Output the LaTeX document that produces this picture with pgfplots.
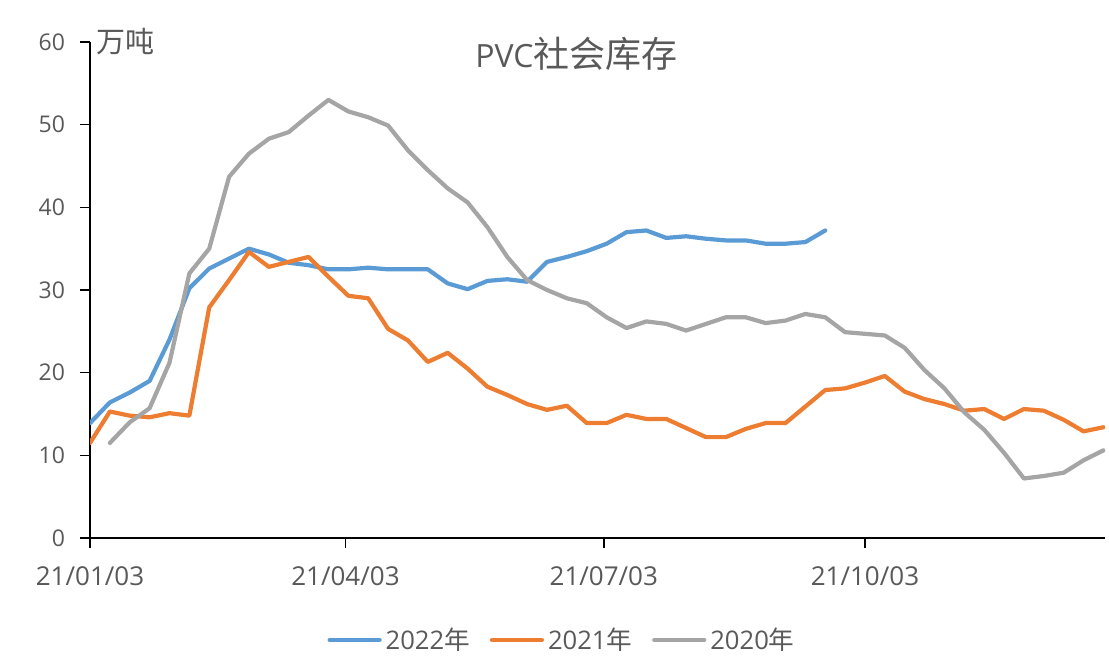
\documentclass[border=0pt]{standalone}
\usepackage{pgfplots}
\pgfplotsset{compat=1.18}
\usepackage{fontspec}
\setmainfont{Open Sans}
\newfontfamily\cjk{Noto Sans CJK SC}
\definecolor{c22}{HTML}{5B9BD5}
\definecolor{c21}{HTML}{ED7D31}
\definecolor{c20}{HTML}{A5A5A5}
\definecolor{txt}{HTML}{595959}
\begin{document}
\begin{tikzpicture}
\useasboundingbox (0,0) rectangle (554.5bp,328.5bp);
\begin{axis}[
  at={(45bp,59.5bp)}, anchor=south west,
  scale only axis, width=507.5bp, height=248bp,
  xmin=0, xmax=51.08, ymin=0, ymax=60,
  axis x line*=bottom, axis y line*=left,
  axis line style={black, line width=0.8bp},
  xtick={0,12.857,25.857,39},
  xticklabels={21/01/03,21/04/03,21/07/03,21/10/03},
  ytick={0,10,20,30,40,50,60},
  tick align=outside, major tick length=5bp,
  tick style={black, line width=0.8bp},
  /pgf/number format/assume math mode=true,
  yticklabel style={font=\fontsize{11.5bp}{13bp}\selectfont, text=txt, xshift=-4bp},
  xticklabel style={font=\fontsize{13bp}{15bp}\selectfont, text=txt, yshift=-6bp},
  legend columns=3,
  legend style={at={(0.466,-0.2056)}, anchor=center, draw=none, fill=none,
    font=\fontsize{12.8bp}{14bp}\selectfont, text=txt,
    /tikz/every even column/.append style={column sep=8bp}},
  legend image code/.code={\draw[#1] (0bp,0bp) -- (25bp,0bp);},
  every axis plot/.append style={line width=2.1bp, line join=round, line cap=round},
]
\addplot[c22] coordinates {
(0,13.9)(1,16.4)(2,17.6)(3,19.0)(4,24.0)(5,30.2)(6,32.6)(7,33.8)(8,35.0)(9,34.3)
(10,33.3)(11,33.0)(12,32.5)(13,32.5)(14,32.7)(15,32.5)(16,32.5)(17,32.5)(18,30.8)(19,30.1)
(20,31.1)(21,31.3)(22,31.0)(23,33.4)(24,34.0)(25,34.7)(26,35.6)(27,37.0)(28,37.2)(29,36.3)
(30,36.5)(31,36.2)(32,36.0)(33,36.0)(34,35.6)(35,35.6)(36,35.8)(37,37.2)
};
\addlegendentry{2022{\cjk 年}}
\addplot[c21] coordinates {
(0,11.5)(1,15.3)(2,14.8)(3,14.6)(4,15.1)(5,14.8)(6,27.9)(7,31.2)(8,34.6)(9,32.8)
(10,33.4)(11,34.0)(12,31.6)(13,29.3)(14,29.0)(15,25.3)(16,23.9)(17,21.3)(18,22.4)(19,20.5)
(20,18.3)(21,17.3)(22,16.2)(23,15.5)(24,16.0)(25,13.9)(26,13.9)(27,14.9)(28,14.4)(29,14.4)
(30,13.3)(31,12.2)(32,12.2)(33,13.2)(34,13.9)(35,13.9)(36,15.9)(37,17.9)(38,18.1)(39,18.8)
(40,19.6)(41,17.7)(42,16.8)(43,16.2)(44,15.4)(45,15.6)(46,14.4)(47,15.6)(48,15.4)(49,14.3)
(50,12.9)(51,13.4)
};
\addlegendentry{2021{\cjk 年}}
\addplot[c20] coordinates {
(1,11.5)(2,14.0)(3,15.7)(4,21.2)(5,32.0)(6,35.0)(7,43.7)(8,46.5)(9,48.3)
(10,49.1)(11,51.1)(12,53.0)(13,51.6)(14,50.9)(15,49.9)(16,46.9)(17,44.5)(18,42.3)(19,40.6)
(20,37.6)(21,34.0)(22,31.2)(23,30.0)(24,29.0)(25,28.4)(26,26.7)(27,25.4)(28,26.2)(29,25.9)
(30,25.1)(31,25.9)(32,26.7)(33,26.7)(34,26.0)(35,26.3)(36,27.1)(37,26.7)(38,24.9)(39,24.7)
(40,24.5)(41,23.0)(42,20.3)(43,18.1)(44,15.2)(45,13.1)(46,10.3)(47,7.2)(48,7.5)(49,7.9)
(50,9.4)(51,10.6)
};
\addlegendentry{2020{\cjk 年}}
\end{axis}
\node[text=txt, font=\fontsize{16bp}{18bp}\selectfont, inner sep=0pt] at (288.25bp,301.5bp) {PVC{\cjk\fontsize{18bp}{20bp}\selectfont 社会库存}};
\node[text=txt, font=\cjk\fontsize{14.5bp}{16bp}\selectfont, inner sep=0pt] at (62.75bp,307.5bp) {万吨};
\end{tikzpicture}
\end{document}
